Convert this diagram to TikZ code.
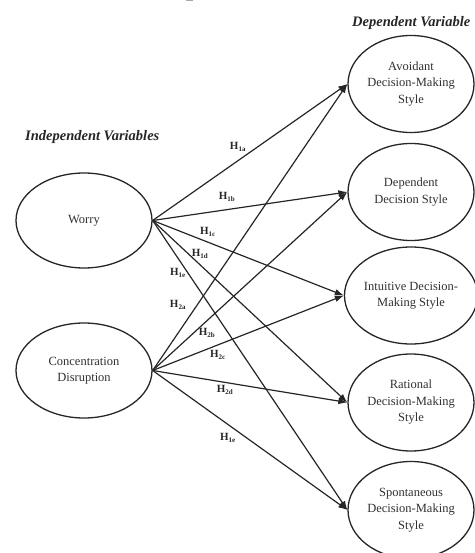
\documentclass[tikz,border=0pt]{standalone}
\usepackage{fontspec}
\setmainfont{Liberation Serif}
\usetikzlibrary{arrows.meta,shapes.geometric}
\definecolor{ink}{HTML}{262626}
\definecolor{txt}{HTML}{303030}
\tikzset{
  var/.style={draw=ink, line width=1.3pt, ellipse, minimum width=#1, align=center,
    font=\fontsize{12.5}{16.5}\selectfont, text=txt, inner sep=0pt},
  lvar/.style={var=136pt, minimum height=95pt},
  rvar/.style={var=126pt, minimum height=97pt},
  path/.style={draw=ink, line width=1.2pt, -{Latex[length=9pt,width=6.5pt]}},
  hyp/.style={font=\fontsize{11}{11}\selectfont\bfseries, text=ink, inner sep=0pt},
  heading/.style={font=\fontsize{14.5}{16}\selectfont\bfseries\itshape, text=ink, inner sep=0pt}
}
\newcommand{\hlab}[1]{H\textsubscript{\fontsize{7}{7}\selectfont #1}}
\begin{document}
\begin{tikzpicture}[x=1pt,y=-1pt]
\useasboundingbox (0,0) rectangle (474,553);
\fill[gray!70] (186,0) rectangle (193,1.5);

\node[heading, anchor=west] (hi) at (25,137) {Independent Variables};
\node[heading, anchor=west] (hd) at (352,23) {Dependent Variable};

\node[lvar] (w) at (84,220.5) {Worry};
\node[lvar] (c) at (84,370.5) {Concentration\\Disruption};

\node[rvar] (av) at (411,84) {Avoidant\\Decision-Making\\Style};
\node[rvar] (de) at (411,192) {Dependent\\Decision Style};
\node[rvar] (in) at (411,295.5) {Intuitive Decision-\\Making Style};
\node[rvar] (ra) at (411,402.5) {Rational\\Decision-Making\\Style};
\node[rvar] (sp) at (411,510) {Spontaneous\\Decision-Making\\Style};

\foreach \t in {av,de,in,ra,sp} {
  \draw[path] (w.east) -- (\t.west);
  \draw[path] (c.east) -- (\t.west);
}

\node[hyp] (h1a) at (238,147) {\hlab{1a}};
\node[hyp] (h1b) at (227,197) {\hlab{1b}};
\node[hyp] (h1c) at (208,232) {\hlab{1c}};
\node[hyp] (h1d) at (200,254) {\hlab{1d}};
\node[hyp] (h1e) at (178,273) {\hlab{1e}};
\node[hyp] (h2a) at (178,305) {\hlab{2a}};
\node[hyp] (h2b) at (207,333) {\hlab{2b}};
\node[hyp] (h2c) at (218,355) {\hlab{2c}};
\node[hyp] (h2d) at (225,390) {\hlab{2d}};
\node[hyp] (h1e2) at (228,438) {\hlab{1e}};
\end{tikzpicture}
\end{document}
